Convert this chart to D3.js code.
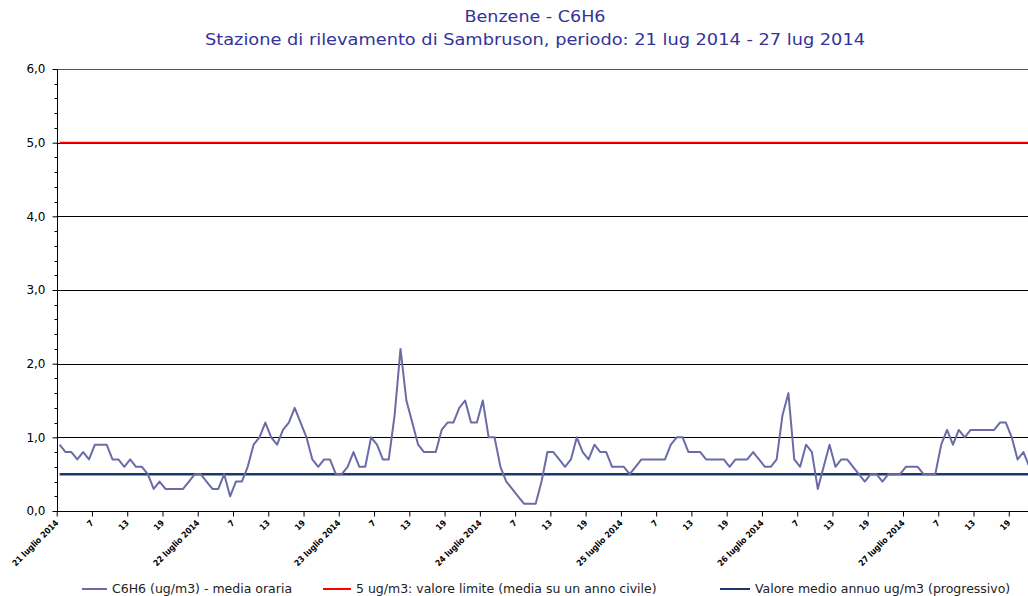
<!DOCTYPE html>
<html>
<head>
<meta charset="utf-8">
<script src="https://cdn.jsdelivr.net/npm/d3@7"></script>
<style>
  body { margin: 0; background: #fff; }
  svg { display: block; font-family: "DejaVu Sans", sans-serif; }
</style>
</head>
<body>
<svg id="chart" width="1028" height="596"></svg>
<script>
'use strict';

// hourly benzene values (ug/m3), 21 lug 2014 h1 onwards
const hourlyValues = [
  0.9, 0.8, 0.8, 0.7, 0.8, 0.7, 0.9, 0.9, 0.9, 0.7, 0.7, 0.6,
  0.7, 0.6, 0.6, 0.5, 0.3, 0.4, 0.3, 0.3, 0.3, 0.3, 0.4, 0.5,
  0.5, 0.4, 0.3, 0.3, 0.5, 0.2, 0.4, 0.4, 0.6, 0.9, 1.0, 1.2,
  1.0, 0.9, 1.1, 1.2, 1.4, 1.2, 1.0, 0.7, 0.6, 0.7, 0.7, 0.5,
  0.5, 0.6, 0.8, 0.6, 0.6, 1.0, 0.9, 0.7, 0.7, 1.3, 2.2, 1.5,
  1.2, 0.9, 0.8, 0.8, 0.8, 1.1, 1.2, 1.2, 1.4, 1.5, 1.2, 1.2,
  1.5, 1.0, 1.0, 0.6, 0.4, 0.3, 0.2, 0.1, 0.1, 0.1, 0.4, 0.8,
  0.8, 0.7, 0.6, 0.7, 1.0, 0.8, 0.7, 0.9, 0.8, 0.8, 0.6, 0.6,
  0.6, 0.5, 0.6, 0.7, 0.7, 0.7, 0.7, 0.7, 0.9, 1.0, 1.0, 0.8,
  0.8, 0.8, 0.7, 0.7, 0.7, 0.7, 0.6, 0.7, 0.7, 0.7, 0.8, 0.7,
  0.6, 0.6, 0.7, 1.3, 1.6, 0.7, 0.6, 0.9, 0.8, 0.3, 0.6, 0.9,
  0.6, 0.7, 0.7, 0.6, 0.5, 0.4, 0.5, 0.5, 0.4, 0.5, 0.5, 0.5,
  0.6, 0.6, 0.6, 0.5, 0.5, 0.5, 0.9, 1.1, 0.9, 1.1, 1.0, 1.1,
  1.1, 1.1, 1.1, 1.1, 1.2, 1.2, 1.0, 0.7, 0.8, 0.6
];
const dayLabels = ["21 luglio 2014", "22 luglio 2014", "23 luglio 2014", "24 luglio 2014",
  "25 luglio 2014", "26 luglio 2014", "27 luglio 2014"];
const hoursInPeriod = 168;
const limitValue = 5.0;
const annualMean = 0.5;
const yTicks = [0, 1, 2, 3, 4, 5, 6];

const seriesNames = [
  "C6H6 (ug/m3)  - media oraria",
  "5 ug/m3: valore limite (media su un anno civile)",
  "Valore medio annuo ug/m3 (progressivo)"
];
const colors = { hourly: "#6b6ba8", limit: "#ff0000", mean: "#1b3a6b" };

function getConfig() {
  let svg = d3.select("#chart");
  let x = d3.scaleLinear().domain([0, hoursInPeriod]).range([56.7, 56.7 + hoursInPeriod * 5.877]);
  let y = d3.scaleLinear().domain([0, 6]).range([511, 69]);
  return { svg, x, y };
}

function drawTitle(svg) {
  svg.append("text")
    .attr("x", 535).attr("y", 22)
    .attr("text-anchor", "middle")
    .attr("textLength", 141).attr("lengthAdjust", "spacingAndGlyphs")
    .style("font-size", "16px").style("fill", "#333399")
    .text("Benzene - C6H6");
  svg.append("text")
    .attr("x", 535).attr("y", 45)
    .attr("text-anchor", "middle")
    .attr("textLength", 660).attr("lengthAdjust", "spacingAndGlyphs")
    .style("font-size", "16px").style("fill", "#333399")
    .text("Stazione di rilevamento di Sambruson, periodo: 21 lug 2014 - 27 lug 2014");
}

function drawAxes(cfg) {
  let { svg, x, y } = cfg;

  // horizontal gridlines
  svg.append("g").selectAll("line")
    .data(yTicks.filter(d => d > 0))
    .enter().append("line")
    .attr("x1", x(0)).attr("x2", 1028)
    .attr("y1", d => Math.round(y(d)) + 0.5).attr("y2", d => Math.round(y(d)) + 0.5)
    .style("stroke", d => d === 6 ? "#555" : "#000")
    .style("stroke-width", 1);

  // y axis
  let yAxis = d3.axisLeft(y)
    .tickValues(yTicks)
    .tickSize(5)
    .tickFormat(d => d3.format(".1f")(d).replace(".", ","));
  let gy = svg.append("g")
    .attr("transform", "translate(" + (Math.round(x(0)) + 0.5) + ",0)")
    .call(yAxis);
  gy.select(".domain").attr("d", "M0," + y(6) + "V" + y(0)).style("stroke", "#000");
  gy.selectAll(".tick line").style("stroke", "#000");
  gy.selectAll("text")
    .attr("x", -12)
    .style("font-size", "12px").style("fill", "#000")
    .style("font-family", "'DejaVu Sans', sans-serif");

  // minor ticks every 0.2
  svg.append("g").selectAll("line")
    .data(d3.range(0, 30).map(d => d * 0.2).filter(d => Math.abs(d - Math.round(d)) > 0.01))
    .enter().append("line")
    .attr("x1", Math.round(x(0)) + 0.5 - 3).attr("x2", Math.round(x(0)) + 0.5)
    .attr("y1", d => Math.round(y(d)) + 0.5).attr("y2", d => Math.round(y(d)) + 0.5)
    .style("stroke", "#000");

  // x axis
  let xTicks = d3.range(0, hoursInPeriod, 6);
  let xAxis = d3.axisBottom(x)
    .tickValues(xTicks)
    .tickSize(5)
    .tickFormat(d => (d % 24 === 0) ? dayLabels[d / 24] : String(d % 24 + 1));
  let gx = svg.append("g")
    .attr("transform", "translate(0," + (Math.round(y(0)) + 0.5) + ")")
    .call(xAxis);
  gx.select(".domain").attr("d", "M" + x(0) + ",0H1028").style("stroke", "#000");
  gx.selectAll(".tick line").style("stroke", "#000");
  gx.selectAll("text")
    .style("text-anchor", "end")
    .attr("x", 0).attr("y", 0)
    .attr("dx", "-0.1em").attr("dy", "0.9em")
    .attr("transform", "translate(-3,6) rotate(-45)")
    .style("font-size", "8.5px").style("font-weight", "bold").style("fill", "#000")
    .style("font-family", "'DejaVu Sans Condensed', 'DejaVu Sans', sans-serif");
}

function drawSeries(cfg) {
  let { svg, x, y } = cfg;
  let hours = hourlyValues.map((v, i) => i);
  let line = d3.line().x(d => x(d[0] + 0.5)).y(d => y(d[1]));

  let firstHour = 0, lastHour = hoursInPeriod - 1;
  svg.append("path")
    .datum([[firstHour, annualMean], [lastHour, annualMean]])
    .attr("d", line)
    .style("fill", "none").style("stroke", colors.mean).style("stroke-width", 2.5);

  svg.append("path")
    .datum([[firstHour, limitValue], [lastHour, limitValue]])
    .attr("d", line)
    .style("fill", "none").style("stroke", colors.limit).style("stroke-width", 2);

  svg.append("path")
    .datum(hours.map(i => [i, hourlyValues[i]]))
    .attr("d", line)
    .style("fill", "none").style("stroke", colors.hourly).style("stroke-width", 2)
    .style("stroke-linejoin", "round");
}

function drawLegend(svg) {
  let items = [
    { name: seriesNames[0], color: colors.hourly, x: 82, w: 25 },
    { name: seriesNames[1], color: colors.limit, x: 323, w: 28 },
    { name: seriesNames[2], color: colors.mean, x: 720, w: 30 }
  ];
  let g = svg.selectAll(".legendItem").data(items)
    .enter().append("g")
    .attr("class", "legendItem")
    .attr("transform", d => "translate(" + d.x + ",589)");
  g.append("line")
    .attr("x1", 0).attr("x2", d => d.w)
    .attr("y1", 0).attr("y2", 0)
    .style("stroke", d => d.color).style("stroke-width", 2);
  g.append("text")
    .attr("x", d => d.w + 5).attr("y", 0).attr("dy", "0.35em")
    .style("font-family", "'DejaVu Sans', sans-serif")
    .style("font-size", "12.5px").style("fill", "#222")
    .text(d => d.name);
}

function drawChart() {
  let cfg = getConfig();
  drawTitle(cfg.svg);
  drawAxes(cfg);
  drawSeries(cfg);
  drawLegend(cfg.svg);
}

drawChart();
</script>
</body>
</html>
